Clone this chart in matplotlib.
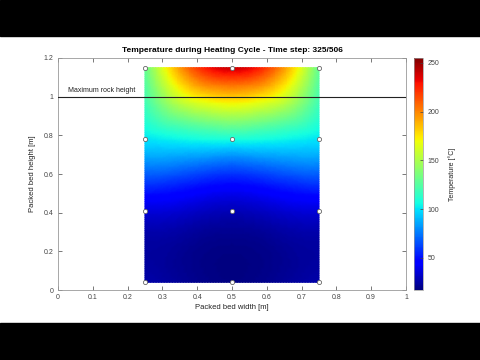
import numpy as np
import matplotlib
matplotlib.use("Agg")
import matplotlib.pyplot as plt
import matplotlib.tri as mtri
from matplotlib.patches import Rectangle

plt.rcParams['font.family'] = ['Liberation Sans', 'DejaVu Sans']

# Sensor positions and temperatures (degC)
sensor_x = [0.25, 0.5, 0.75]
sensor_y = [0.04, 0.41, 0.78, 1.15]
# rows: y from bottom to top; cols: x left to right
temps = [
    [26, 18, 26],
    [36, 29, 36],
    [100, 108, 100],
    [128, 240, 128],
]
t_min, t_max = 17, 255
rock_height = 1.0
xticks = [0, 0.1, 0.2, 0.3, 0.4, 0.5, 0.6, 0.7, 0.8, 0.9, 1]
xticklabels = ['0', '0.1', '0.2', '0.3', '0.4', '0.5', '0.6', '0.7', '0.8', '0.9', '1']
yticks = [0, 0.2, 0.4, 0.6, 0.8, 1.0, 1.2]
yticklabels = ['0', '0.2', '0.4', '0.6', '0.8', '1', '1.2']
cbticks = [50, 100, 150, 200, 250]

fig = plt.figure(figsize=(4.8, 3.6), dpi=100, facecolor='white')
# letterbox bars
fig.patches.append(Rectangle((0, 0.9), 1, 0.1, transform=fig.transFigure, color='black', zorder=0))
fig.patches.append(Rectangle((0, 0), 1, 0.103, transform=fig.transFigure, color='black', zorder=0))

ax = fig.add_axes([0.1208, 0.1944, 0.725, 0.6445])
cax = fig.add_axes([0.8625, 0.1944, 0.0188, 0.6445])

nx, ny = len(sensor_x), len(sensor_y)
px, py, pz = [], [], []
for j in range(ny):
    for i in range(nx):
        px.append(sensor_x[i]); py.append(sensor_y[j]); pz.append(temps[j][i])
px = np.array(px); py = np.array(py); pz = np.array(pz, dtype=float)

def idx(i, j):
    return j * nx + i

tris = []
for j in range(ny - 1):
    a, b, c, d = idx(0, j), idx(1, j), idx(1, j + 1), idx(0, j + 1)
    tris += [[a, b, c], [a, c, d]]
    a, b, c, d = idx(1, j), idx(2, j), idx(2, j + 1), idx(1, j + 1)
    tris += [[a, b, d], [b, c, d]]

triang = mtri.Triangulation(px, py, np.array(tris))
refiner = mtri.UniformTriRefiner(triang)
interp = mtri.CubicTriInterpolator(triang, pz, kind='min_E')
tri_ref, z_ref = refiner.refine_field(pz, triinterpolator=interp, subdiv=5)
z_ref = np.clip(z_ref, t_min, t_max)

cmap = plt.get_cmap('jet')
tpc = ax.tripcolor(tri_ref, z_ref, shading='gouraud', cmap=cmap, vmin=t_min, vmax=t_max, zorder=1)

ax.axhline(rock_height, color='#222222', lw=0.8, zorder=3)
ax.text(0.03, rock_height + 0.012, 'Maximum rock height', fontsize=5, color='#222222', va='bottom', ha='left')

ax.plot(px, py, linestyle='none', marker='o', markersize=3, markerfacecolor='white',
        markeredgecolor='#666666', markeredgewidth=0.6, zorder=4)

ax.set_xlim(0, 1)
ax.set_ylim(0, 1.2)
ax.set_xticks(xticks)
ax.set_xticklabels(xticklabels)
ax.set_yticks(yticks)
ax.set_yticklabels(yticklabels)
ax.tick_params(direction='in', length=3, width=0.5, labelsize=5, colors='#444444',
               top=True, right=True, pad=3)
for s in ax.spines.values():
    s.set_color('#999999')
    s.set_linewidth(0.6)
ax.set_xlabel('Packed bed width [m]', fontsize=5.5, color='#222222', labelpad=2)
ax.set_ylabel('Packed bed height [m]', fontsize=5.5, color='#222222', labelpad=6)
ax.set_title('Temperature during Heating Cycle - Time step: 325/506', fontsize=6, fontweight='bold', pad=4)

cb = fig.colorbar(tpc, cax=cax)
cb.set_ticks(cbticks)
cb.ax.tick_params(direction='in', length=2, width=0.5, labelsize=5, colors='#444444')
cb.outline.set_edgecolor('#999999')
cb.outline.set_linewidth(0.5)
cb.set_label('Temperature [°C]', fontsize=5, color='#222222', labelpad=6)

fig.savefig('out.png', dpi=100, facecolor='white')
